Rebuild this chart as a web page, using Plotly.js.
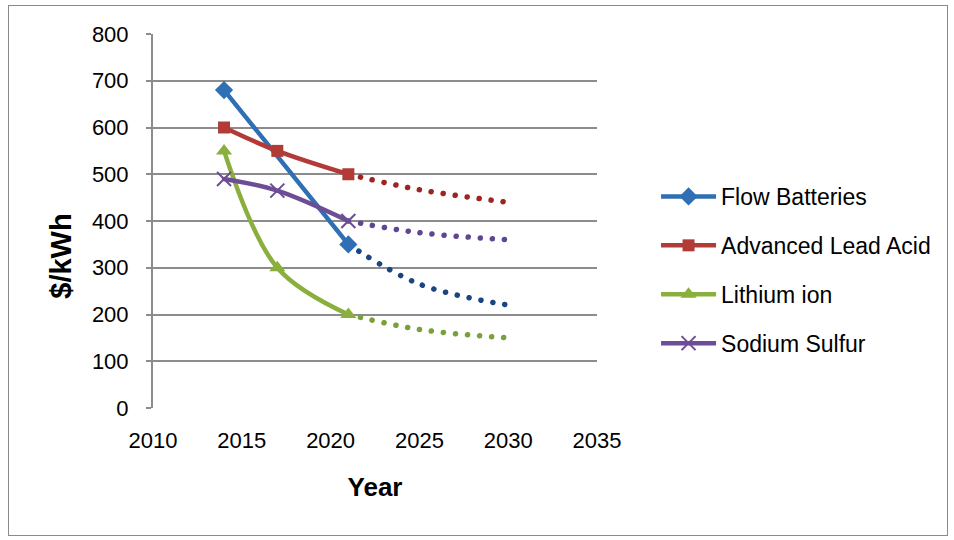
<!DOCTYPE html>
<html>
<head>
<meta charset="utf-8">
<script src="https://cdn.plot.ly/plotly-3.0.1.min.js"></script>
<style>
  html, body { margin: 0; padding: 0; background: #fff; }
  #frame { position: absolute; left: 8px; top: 5px; width: 938px; height: 529px; border: 1px solid #8a8a8a; }
  #chart { position: absolute; left: 0; top: 0; width: 954px; height: 540px; }
  #chart .scatterlayer path.js-line { stroke-linecap: round; }
</style>
</head>
<body>
<div id="frame"></div>
<div id="chart"></div>
<script>
// Historical / near-term values (solid lines)
const yearsHist = [2014, 2017, 2021];
const flowYears = [2014, 2021];
const flowHist = [680, 350];
const leadHist = [600, 550, 500];
const lithiumHist = [550, 300, 200];
const sodiumHist = [490, 465, 400];

// Projections (dotted lines)
const yearsProj = [2021, 2025, 2030];
const flowProj = [350, 265, 220];
const leadProj = [500, 467, 440];
const lithiumProj = [200, 168, 150];
const sodiumProj = [400, 375, 360];

const seriesNames = ["Flow Batteries", "Advanced Lead Acid", "Lithium ion", "Sodium Sulfur"];
const yTitle = "$/kWh";
const xTitle = "Year";
const lineColors = ["#2f6fb3", "#b23a37", "#8aaf3d", "#6c4d96"];
const dotColors = ["#1b4580", "#9e2423", "#79a03a", "#5e4690"];
const markers = ["diamond", "square", "triangle-up", "x-thin"];

const hist = [[flowYears, flowHist], [yearsHist, leadHist], [yearsHist, lithiumHist], [yearsHist, sodiumHist]];
const proj = [flowProj, leadProj, lithiumProj, sodiumProj];

const traces = [];
hist.forEach((h, i) => {
  traces.push({
    x: yearsProj, y: proj[i], mode: "lines", type: "scatter", showlegend: false,
    legendgroup: "g" + i,
    line: { color: dotColors[i], width: 5.5, dash: "0.1px,12px", shape: "spline", smoothing: 1 },
    hoverinfo: "skip"
  });
});
hist.forEach((h, i) => {
  traces.push({
    x: h[0], y: h[1], name: seriesNames[i], mode: "lines+markers", type: "scatter",
    legendgroup: "g" + i,
    line: { color: lineColors[i], width: 4.5, shape: "spline", smoothing: 1 },
    marker: {
      symbol: markers[i],
      size: markers[i] === "x-thin" ? 14 : (markers[i] === "square" ? 12 : 14),
      color: lineColors[i],
      line: { color: lineColors[i], width: markers[i] === "x-thin" ? 2 : 0 }
    }
  });
});

const layout = {
  width: 954, height: 540,
  paper_bgcolor: "rgba(0,0,0,0)", plot_bgcolor: "rgba(0,0,0,0)",
  margin: { l: 153, r: 357, t: 34, b: 132 },
  font: { family: "Liberation Sans, Arial, sans-serif", color: "#000", size: 22 },
  showlegend: true,
  legend: {
    x: 1.133, y: 0.369, xanchor: "left", yanchor: "middle",
    traceorder: "grouped", tracegroupgap: 16,
    itemwidth: 55,
    font: { size: 23, color: "#000" },
    bgcolor: "rgba(0,0,0,0)"
  },
  xaxis: {
    range: [2010, 2035], dtick: 5, tick0: 2010,
    showgrid: false, zeroline: false, showline: false,
    ticks: "", ticklabelstandoff: 17,
    tickfont: { size: 22 },
    title: { text: "<b>" + xTitle + "</b>", font: { size: 26 }, standoff: 25 }
  },
  yaxis: {
    range: [0, 800], dtick: 100, tick0: 0,
    showgrid: true, gridcolor: "#8c8c8c", gridwidth: 2,
    zeroline: false, showline: true, linecolor: "#8c8c8c", linewidth: 2,
    ticks: "outside", ticklen: 5, tickcolor: "#8c8c8c", tickwidth: 2,
    ticklabelstandoff: 13,
    tickfont: { size: 22 }
  },
  annotations: [{
    text: "<b>" + yTitle + "</b>", xref: "paper", yref: "paper",
    x: -0.209, y: 0.405, xanchor: "center", yanchor: "middle",
    textangle: -90, showarrow: false, font: { size: 29, color: "#000" }
  }]
};

Plotly.newPlot("chart", traces, layout, { displayModeBar: false, staticPlot: true });
</script>
</body>
</html>
